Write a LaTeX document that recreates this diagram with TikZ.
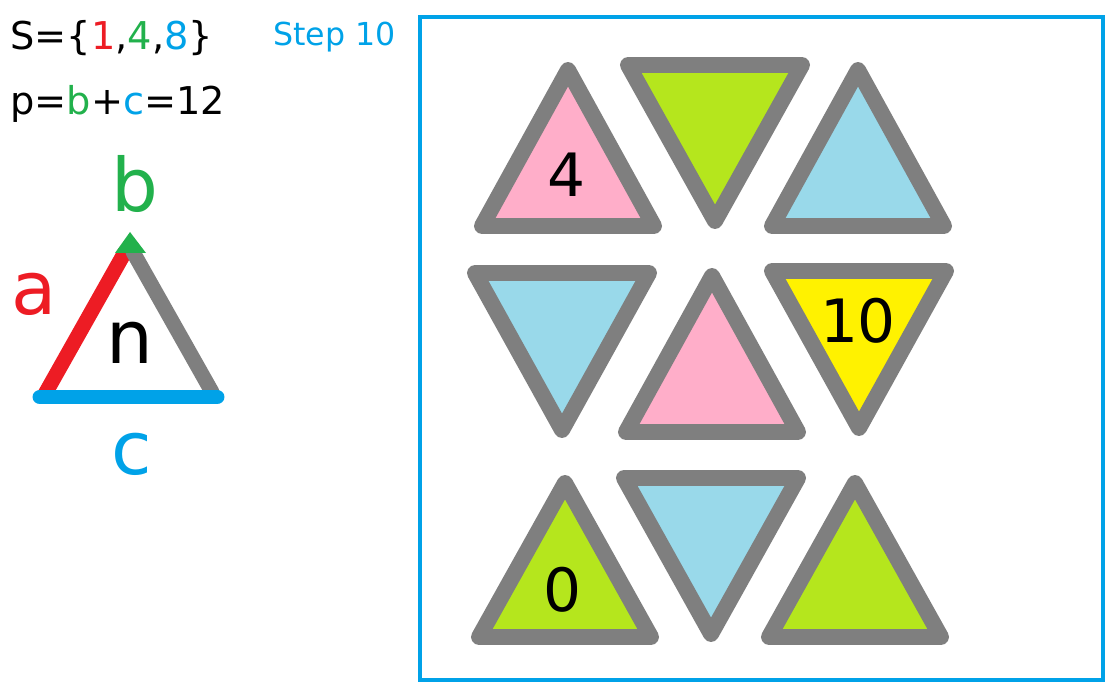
\documentclass[tikz,border=0pt]{standalone}
\usepackage{fontspec}
\setmainfont{DejaVu Sans}
\usepackage{xcolor}
\definecolor{paintred}{RGB}{237,28,36}
\definecolor{paintgreen}{RGB}{34,177,76}
\definecolor{paintblue}{RGB}{0,162,232}
\definecolor{paintgray}{RGB}{127,127,127}
\definecolor{paintrose}{RGB}{255,174,201}
\definecolor{paintlime}{RGB}{181,230,29}
\definecolor{paintsky}{RGB}{153,217,234}
\definecolor{paintyellow}{RGB}{255,242,0}

\begin{document}
\begin{tikzpicture}[x=0.02cm,y=-0.02cm,line cap=round,
  tri/.style={draw=paintgray,line width=9.1pt,line join=round},
  side/.style={line width=8.5pt},
  formula/.style={anchor=base west,inner sep=0pt,font=\fontsize{21.8}{26}\selectfont},
  letter/.style={anchor=base,inner sep=0pt,font=\fontsize{42}{50}\selectfont},
  num/.style={anchor=base,inner sep=0pt,font=\fontsize{34}{40}\selectfont}]
\useasboundingbox (0,0) rectangle (1119,699);
% legend
\node[formula] (set) at (10,50) {S=\{\textcolor{paintred}{1},\textcolor{paintgreen}{4},\textcolor{paintblue}{8}\}};
\node[formula] (sum) at (10,115) {p=\textcolor{paintgreen}{b}+\textcolor{paintblue}{c}=12};
\node[anchor=base west,inner sep=0pt,text=paintblue,font=\fontsize{18}{22}\selectfont] (step) at (273,46) {Step 10};
\draw[side,paintred] (45,394) -- (125,252);
\draw[side,paintgray] (133,252) -- (212,392);
\draw[side,paintblue] (40,397) -- (217,397);
\fill[paintgreen] (115,253) -- (146,253) -- (130,232) -- cycle;
\node[letter,text=paintgreen] (b) at (135,212) {b};
\node[letter,text=paintred] (a) at (34,315) {a};
\node[letter] (n) at (130,363) {n};
\node[letter,text=paintblue] (c) at (132,474) {c};
% board
\draw[paintblue,line width=2.3pt] (420,17) rectangle (1103,680);
\filldraw[tri,fill=paintrose] (482,226) -- (654,226) -- (568,70) -- cycle;
\filldraw[tri,fill=paintlime] (628,65) -- (802,65) -- (715,221) -- cycle;
\filldraw[tri,fill=paintsky] (772,226) -- (944,226) -- (858,70) -- cycle;
\filldraw[tri,fill=paintsky] (475,273) -- (649,273) -- (562,430) -- cycle;
\filldraw[tri,fill=paintrose] (626,432) -- (798,432) -- (712,276) -- cycle;
\filldraw[tri,fill=paintyellow] (772,271) -- (946,271) -- (859,428) -- cycle;
\filldraw[tri,fill=paintlime] (479,637) -- (651,637) -- (565,483) -- cycle;
\filldraw[tri,fill=paintsky] (624,478) -- (798,478) -- (711,634) -- cycle;
\filldraw[tri,fill=paintlime] (769,637) -- (941,637) -- (855,483) -- cycle;
\node[num] (four) at (566,197) {4};
\node[num] (ten) at (858,342) {10};
\node[num] (zero) at (562,611) {0};
\end{tikzpicture}
\end{document}
